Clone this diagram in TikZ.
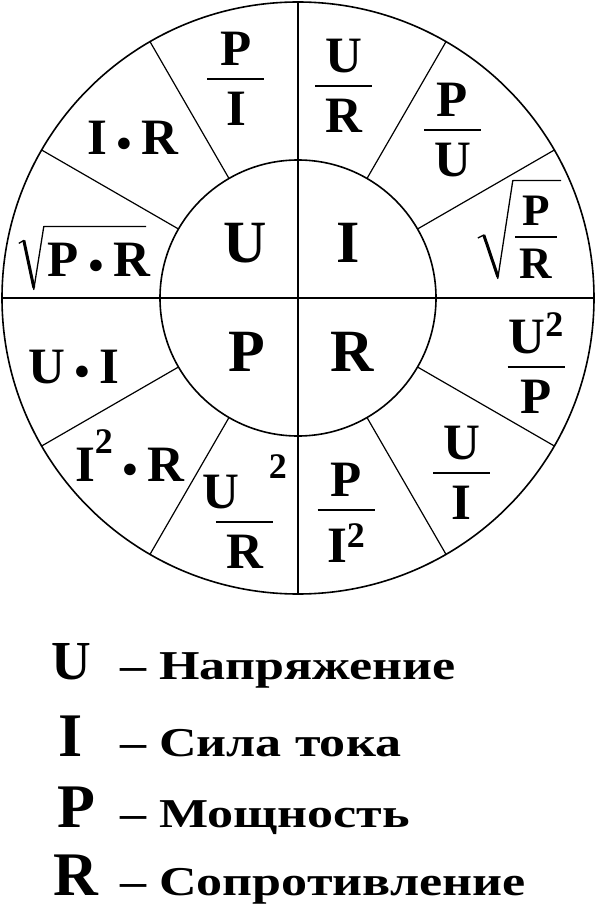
\documentclass[tikz,border=0pt]{standalone}
\usepackage{fontspec}
\usepackage{graphicx}
\setmainfont{Liberation Serif}
\newfontfamily\keyfont[FakeStretch=1.27]{Liberation Serif}
\usetikzlibrary{calc}

\begin{document}
\begin{tikzpicture}[x=1pt, y=1pt,
    ring/.style={line width=1.6pt},
    spoke/.style={line width=1.2pt},
    root/.style={line width=1.3pt, line join=round},
    letter/.style={font=\fontsize{60}{60}\selectfont\bfseries, inner sep=0pt, anchor=base},
    formula/.style={font=\fontsize{51}{51}\selectfont\bfseries, inner sep=0pt, anchor=base},
    key/.style={font=\fontsize{62}{62}\selectfont\bfseries, inner sep=0pt, anchor=base},
    keytext/.style={font=\keyfont\bfseries\fontsize{41}{41}\selectfont, inner sep=0pt, anchor=base west}]
    \useasboundingbox (-298,-620) rectangle (298,298);

    \newcommand{\ffrac}[3][57pt]{\vtop{\offinterlineskip
        \vbox{\offinterlineskip\hbox to #1{\hss#2\hss}\kern.24em\hrule height 2pt}%
        \kern.24em\hbox to #1{\hss#3\hss}}}
    \newcommand{\pwr}[1]{\raisebox{#1}{\fontsize{36}{36}\selectfont 2}}
    \newcommand{\md}{\kern.1em\raisebox{-.24em}{\scalebox{1.4}{·}}\kern.1em}

    % wheel
    \draw[ring] (0,0) circle (296);
    \draw[ring] (0,0) circle (138);
    \draw[ring] (0,296) -- (0,-296);
    \draw[ring] (-296,0) -- (296,0);
    \foreach \a in {30,60,120,150,210,240,300,330}
      \draw[spoke] (\a:138) -- (\a:296);

    % quantities
    \node[letter] (U) at (-53,35) {U};
    \node[letter] (I) at (50,35) {I};
    \node[letter] (P) at (-51,-73) {P};
    \node[letter] (R) at (54,-73) {R};

    % current
    \node[formula] (UdR) at (45.5,211) {\ffrac{U}{R}};
    \node[formula] (PdU) at (154.5,167) {\ffrac{P}{U}};
    \node[formula, font=\fontsize{45}{45}\selectfont\bfseries] (PdR) at (238,60) {\ffrac[42pt]{P}{R}};
    \draw[root] ($(PdR.base west)+(-37,0)$) -- ++(6,3)
      -- ($(PdR.south west)+(-17,0)$) -- ($(PdR.north west)+(-2,15)$)
      -- ($(PdR.north east)+(4,15)$);
    \draw[line width=3pt] ($(PdR.base west)+(-31,3)$) -- ($(PdR.south west)+(-17,2)$);

    % voltage
    \node[formula] (PdI) at (-62,218) {\ffrac{P}{I}};
    \node[formula] (IxR) at (-165.5,143) {I\md R};
    \node[formula] (PxR) at (-199,21) {P\md R};
    \draw[root] ($(PxR.north west)+(-29,0)$) -- ++(5,3)
      -- ($(PxR.south west)+(-14,0)$) -- ($(PxR.north west)+(-4,17)$)
      -- ($(PxR.north east)+(-4,17)$);
    \draw[line width=3pt] ($(PxR.north west)+(-24,3)$) -- ($(PxR.south west)+(-14,2)$);

    % power
    \node[formula] (UxI) at (-224,-85) {U\md I};
    \node[formula] (IIxR) at (-168.5,-183) {I\pwr{28pt}\md R};
    \node[formula] (UUdR) at (-53.5,-225) {\ffrac{U\hspace{30pt}\pwr{30pt}}{R}};

    % resistance
    \node[formula] (PdII) at (48,-213) {\ffrac{P}{I\pwr{15pt}}};
    \node[formula] (UdI) at (163.5,-176) {\ffrac{U}{I}};
    \node[formula] (UUdP) at (238,-70) {\ffrac{U\pwr{17pt}}{P}};

    % legend
    \node[key, font=\fontsize{55}{55}\selectfont\bfseries] (kU) at (-227,-381) {U};
    \node[keytext] (tU) at (-178,-381) {– Напряжение};
    \node[key] (kI) at (-227,-458) {I};
    \node[keytext] (tI) at (-178,-458) {– Сила тока};
    \node[key] (kP) at (-222,-529) {P};
    \node[keytext] (tP) at (-178,-529) {– Мощность};
    \node[key] (kR) at (-222,-597) {R};
    \node[keytext] (tR) at (-178,-597) {– Сопротивление};
\end{tikzpicture}
\end{document}
